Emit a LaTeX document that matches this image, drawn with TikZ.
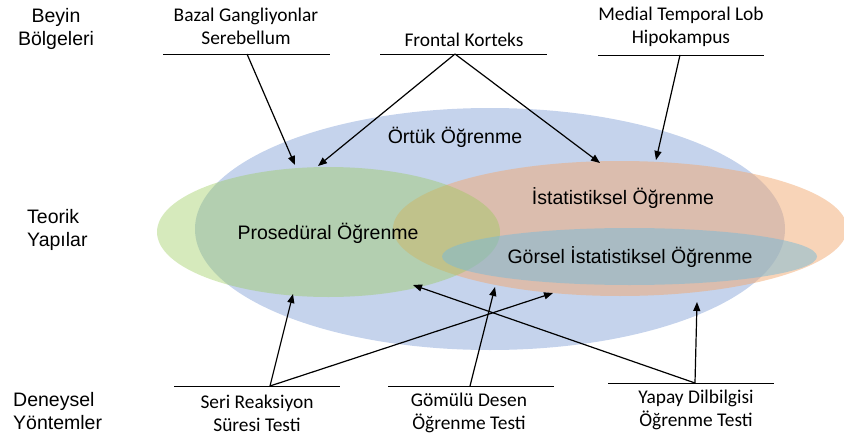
\documentclass[tikz,border=0pt]{standalone}
\usepackage{fontspec}
\setmainfont{Liberation Sans}
\newfontfamily\calfont{Carlito}
\usetikzlibrary{arrows.meta}
\definecolor{blueE}{RGB}{197,211,236}
\definecolor{greenE}{RGB}{152,202,88}
\definecolor{orangeE}{RGB}{241,169,113}
\definecolor{tealE}{RGB}{121,186,216}
\begin{document}
\begin{tikzpicture}[x=1pt,y=-1pt,
  lab/.style={font=\fontsize{19.5}{23}\selectfont, inner sep=0pt, align=center},
  clab/.style={font=\calfont\fontsize{19.4}{23}\selectfont, inner sep=0pt, align=center},
  uline/.style={line width=1pt},
  arr/.style={line width=1.2pt, -{Triangle[length=9pt,width=7pt]}}]
\useasboundingbox (0,0) rectangle (844,439);

% ellipses
\fill[blueE] (490,229) ellipse [x radius=295pt, y radius=121pt];
\fill[orangeE,opacity=0.5] (620,228.5) ellipse [x radius=227pt, y radius=67.5pt];
\fill[greenE,opacity=0.4] (328.5,232) ellipse [x radius=171.5pt, y radius=65pt];
\fill[tealE,opacity=0.5] (629.5,256.5) ellipse [x radius=187.5pt, y radius=28.5pt];

% ellipse labels
\node[lab] (ortuk) at (455,137) {Örtük Öğrenme};
\node[lab] (pros) at (328,233) {Prosedüral Öğrenme};
\node[lab] (istat) at (623,198) {İstatistiksel Öğrenme};
\node[lab] (gorsel) at (630,257) {Görsel İstatistiksel Öğrenme};

% left column
\node[lab] (beyin) at (56,28.5) {Beyin\\Bölgeleri};
\node[lab, align=left, anchor=west] (teorik) at (27,230) {Teorik\\Yapılar};
\node[lab, align=left, anchor=west] (deney) at (13,411.5) {Deneysel\\Yöntemler};

% top labels
\node[clab] (bazal) at (246,26.5) {Bazal Gangliyonlar\\Serebellum};
\node[clab] (frontal) at (464,40) {Frontal Korteks};
\node[clab] (medial) at (681,26.5) {Medial Temporal Lob\\Hipokampus};

\coordinate (bzL) at (163,54); \coordinate (bzR) at (330,54);
\coordinate (bzA) at (247,54); \coordinate (bzT) at (295,165);
\coordinate (frL) at (380,54); \coordinate (frR) at (547,54);
\coordinate (frA) at (455,54); \coordinate (frT1) at (318,166); \coordinate (frT2) at (600,163);
\coordinate (mdL) at (598,55); \coordinate (mdR) at (764,55);
\coordinate (mdA) at (680,55); \coordinate (mdT) at (656,160);

\draw[uline] (bzL) -- (bzR);
\draw[uline] (frL) -- (frR);
\draw[uline] (mdL) -- (mdR);
\draw[arr] (bzA) -- (bzT);
\draw[arr] (frA) -- (frT1);
\draw[arr] (frA) -- (frT2);
\draw[arr] (mdA) -- (mdT);

% bottom labels
\node[clab] (seri) at (257,413) {Seri Reaksiyon\\Süresi Testi};
\node[clab] (gomulu) at (469,413) {Gömülü Desen\\Öğrenme Testi};
\node[clab] (yapay) at (696,410) {Yapay Dilbilgisi\\Öğrenme Testi};

\coordinate (srL) at (174,386); \coordinate (srR) at (340,386);
\coordinate (srA) at (270,386); \coordinate (srT1) at (293,294); \coordinate (srT2) at (553,293);
\coordinate (gmL) at (388,386); \coordinate (gmR) at (554,386);
\coordinate (gmA) at (470,386); \coordinate (gmT) at (495,287);
\coordinate (ypL) at (608,383); \coordinate (ypR) at (774,383);
\coordinate (ypA) at (695,383); \coordinate (ypT1) at (697,302); \coordinate (ypT2) at (413,285);

\draw[uline] (srL) -- (srR);
\draw[uline] (gmL) -- (gmR);
\draw[uline] (ypL) -- (ypR);
\draw[arr] (srA) -- (srT1);
\draw[arr] (srA) -- (srT2);
\draw[arr] (gmA) -- (gmT);
\draw[arr] (ypA) -- (ypT1);
\draw[arr] (ypA) -- (ypT2);
\end{tikzpicture}
\end{document}
